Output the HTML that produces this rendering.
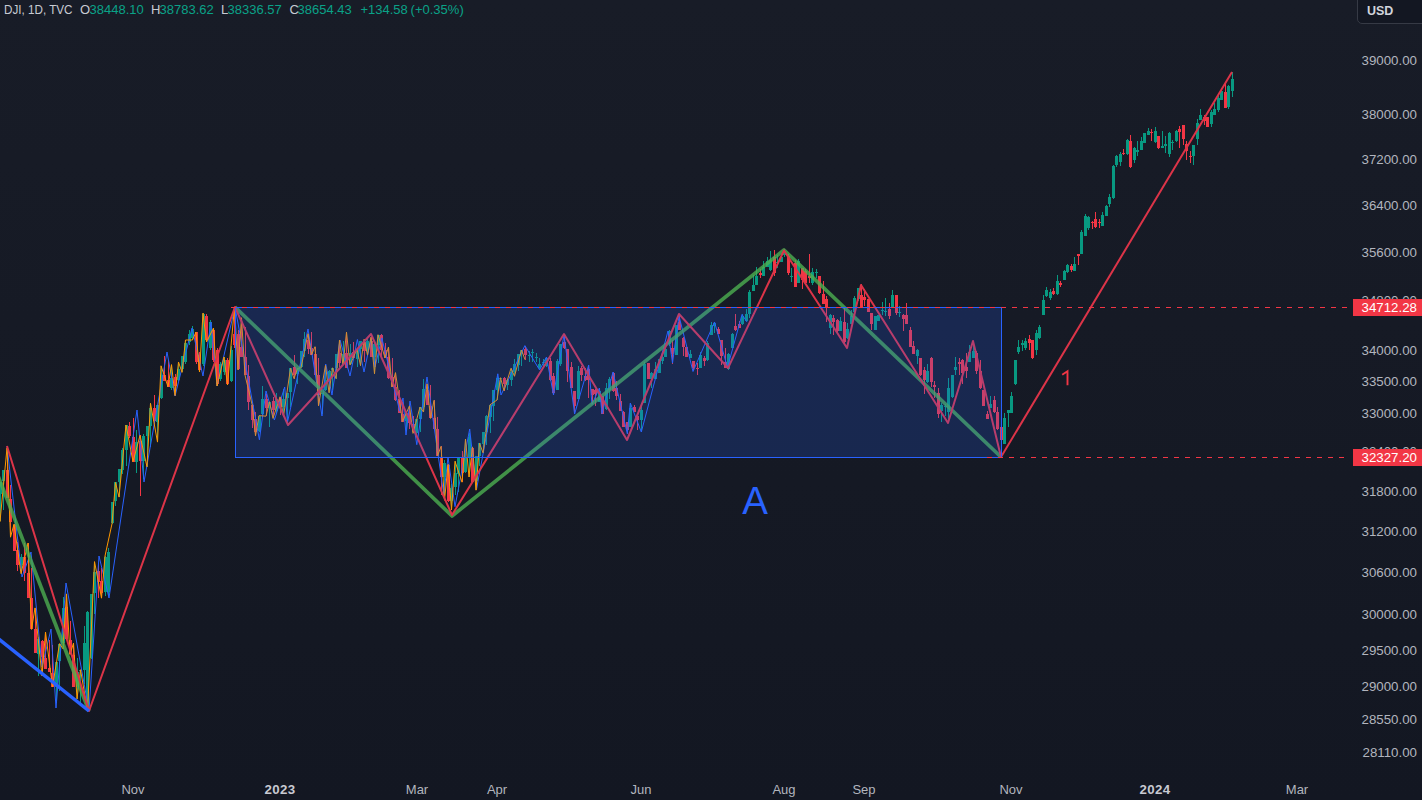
<!DOCTYPE html>
<html><head><meta charset="utf-8">
<style>
html,body{margin:0;padding:0;}
body{width:1422px;height:800px;overflow:hidden;position:relative;background:linear-gradient(180deg,#181c27 0%,#131722 100%);font-family:"Liberation Sans",sans-serif;}
.hdr{position:absolute;left:3px;top:2px;font-size:13px;line-height:15px;color:#c8cbd3;white-space:pre;}
.g{color:#0aa287;}
.pl{position:absolute;right:5px;width:80px;text-align:right;font-size:13.3px;line-height:16px;color:#b2b5be;}
.tl{position:absolute;top:782px;width:80px;text-align:center;font-size:13px;line-height:16px;color:#b2b5be;}
.tl.b{font-weight:bold;color:#c8cad2;font-size:13.3px;letter-spacing:0.4px;}
.lab{position:absolute;left:1353px;width:69px;height:17px;background:#f23645;color:#fff;font-size:13.3px;line-height:17px;text-align:right;box-sizing:border-box;padding-right:5px;}
.usd{position:absolute;left:1357px;top:-6px;width:80px;height:30px;box-sizing:border-box;border:1px solid #363a45;border-radius:5px;background:#131722;color:#d1d4dc;font-size:12.5px;font-weight:bold;}
.usd span{position:absolute;left:9px;top:9px;line-height:15px;}
</style></head><body>
<svg width="1350" height="770" viewBox="0 0 1350 770" style="position:absolute;left:0;top:0">
<g shape-rendering="crispEdges">
<path d="M-3.5 487V529" stroke="#089981" stroke-width="1"/>
<rect x="-5" y="495" width="3" height="13" fill="#089981"/>
<path d="M0.5 482V521" stroke="#089981" stroke-width="1"/>
<rect x="-1" y="482" width="3" height="12" fill="#089981"/>
<path d="M3.5 470V510" stroke="#089981" stroke-width="1"/>
<rect x="2" y="470" width="3" height="11" fill="#089981"/>
<path d="M7.5 448V498" stroke="#f23645" stroke-width="1"/>
<rect x="6" y="470" width="3" height="28" fill="#f23645"/>
<path d="M10.5 485V537" stroke="#f23645" stroke-width="1"/>
<rect x="9" y="499" width="3" height="23" fill="#f23645"/>
<path d="M14.5 524V551" stroke="#f23645" stroke-width="1"/>
<rect x="13" y="525" width="3" height="26" fill="#f23645"/>
<path d="M17.5 542V571" stroke="#f23645" stroke-width="1"/>
<rect x="16" y="550" width="3" height="15" fill="#f23645"/>
<path d="M21.5 554V574" stroke="#089981" stroke-width="1"/>
<rect x="20" y="557" width="3" height="8" fill="#089981"/>
<path d="M24.5 543V581" stroke="#f23645" stroke-width="1"/>
<rect x="23" y="557" width="3" height="16" fill="#f23645"/>
<path d="M28.5 543V598" stroke="#f23645" stroke-width="1"/>
<rect x="27" y="573" width="3" height="25" fill="#f23645"/>
<path d="M31.5 568V629" stroke="#f23645" stroke-width="1"/>
<rect x="30" y="598" width="3" height="31" fill="#f23645"/>
<path d="M35.5 608V653" stroke="#f23645" stroke-width="1"/>
<rect x="34" y="629" width="3" height="24" fill="#f23645"/>
<path d="M38.5 637V676" stroke="#089981" stroke-width="1"/>
<rect x="37" y="639" width="3" height="15" fill="#089981"/>
<path d="M42.5 640V676" stroke="#f23645" stroke-width="1"/>
<rect x="41" y="641" width="3" height="16" fill="#f23645"/>
<path d="M45.5 632V669" stroke="#f23645" stroke-width="1"/>
<rect x="44" y="658" width="3" height="11" fill="#f23645"/>
<path d="M49.5 640V672" stroke="#f23645" stroke-width="1"/>
<rect x="48" y="668" width="3" height="4" fill="#f23645"/>
<path d="M52.5 645V687" stroke="#f23645" stroke-width="1"/>
<rect x="51" y="673" width="3" height="14" fill="#f23645"/>
<path d="M56.5 662V703" stroke="#089981" stroke-width="1"/>
<rect x="55" y="662" width="3" height="25" fill="#089981"/>
<path d="M59.5 644V691" stroke="#089981" stroke-width="1"/>
<rect x="58" y="644" width="3" height="17" fill="#089981"/>
<path d="M63.5 597V649" stroke="#089981" stroke-width="1"/>
<rect x="62" y="608" width="3" height="35" fill="#089981"/>
<path d="M66.5 594V639" stroke="#f23645" stroke-width="1"/>
<rect x="65" y="607" width="3" height="32" fill="#f23645"/>
<path d="M70.5 621V654" stroke="#f23645" stroke-width="1"/>
<rect x="69" y="640" width="3" height="14" fill="#f23645"/>
<path d="M73.5 643V687" stroke="#f23645" stroke-width="1"/>
<rect x="72" y="655" width="3" height="32" fill="#f23645"/>
<path d="M77.5 658V699" stroke="#089981" stroke-width="1"/>
<rect x="76" y="672" width="3" height="15" fill="#089981"/>
<path d="M80.5 670V703" stroke="#089981" stroke-width="1"/>
<rect x="79" y="670" width="3" height="1" fill="#089981"/>
<path d="M84.5 626V684" stroke="#089981" stroke-width="1"/>
<rect x="83" y="643" width="3" height="27" fill="#089981"/>
<path d="M91.5 594V659" stroke="#089981" stroke-width="1"/>
<rect x="90" y="594" width="3" height="64" fill="#089981"/>
<path d="M94.5 562V614" stroke="#089981" stroke-width="1"/>
<rect x="93" y="572" width="3" height="21" fill="#089981"/>
<path d="M98.5 565V598" stroke="#f23645" stroke-width="1"/>
<rect x="97" y="571" width="3" height="11" fill="#f23645"/>
<path d="M101.5 568V598" stroke="#f23645" stroke-width="1"/>
<rect x="100" y="581" width="3" height="12" fill="#f23645"/>
<path d="M105.5 556V596" stroke="#089981" stroke-width="1"/>
<rect x="104" y="557" width="3" height="35" fill="#089981"/>
<path d="M112.5 502V524" stroke="#089981" stroke-width="1"/>
<rect x="111" y="502" width="3" height="21" fill="#089981"/>
<path d="M115.5 482V506" stroke="#089981" stroke-width="1"/>
<rect x="114" y="482" width="3" height="19" fill="#089981"/>
<path d="M119.5 469V497" stroke="#089981" stroke-width="1"/>
<rect x="118" y="469" width="3" height="13" fill="#089981"/>
<path d="M122.5 448V474" stroke="#089981" stroke-width="1"/>
<rect x="121" y="450" width="3" height="20" fill="#089981"/>
<path d="M126.5 425V466" stroke="#089981" stroke-width="1"/>
<rect x="125" y="425" width="3" height="25" fill="#089981"/>
<path d="M129.5 422V438" stroke="#f23645" stroke-width="1"/>
<rect x="128" y="426" width="3" height="10" fill="#f23645"/>
<path d="M133.5 418V462" stroke="#f23645" stroke-width="1"/>
<rect x="132" y="437" width="3" height="25" fill="#f23645"/>
<path d="M136.5 430V473" stroke="#089981" stroke-width="1"/>
<rect x="135" y="442" width="3" height="20" fill="#089981"/>
<path d="M140.5 435V496" stroke="#f23645" stroke-width="1"/>
<rect x="139" y="441" width="3" height="20" fill="#f23645"/>
<path d="M143.5 434V479" stroke="#089981" stroke-width="1"/>
<rect x="142" y="436" width="3" height="25" fill="#089981"/>
<path d="M147.5 426V467" stroke="#089981" stroke-width="1"/>
<rect x="146" y="426" width="3" height="10" fill="#089981"/>
<path d="M150.5 403V447" stroke="#089981" stroke-width="1"/>
<rect x="149" y="408" width="3" height="18" fill="#089981"/>
<path d="M154.5 395V424" stroke="#f23645" stroke-width="1"/>
<rect x="153" y="408" width="3" height="13" fill="#f23645"/>
<path d="M157.5 405V442" stroke="#089981" stroke-width="1"/>
<rect x="156" y="405" width="3" height="17" fill="#089981"/>
<path d="M161.5 366V399" stroke="#089981" stroke-width="1"/>
<rect x="160" y="375" width="3" height="23" fill="#089981"/>
<path d="M164.5 356V381" stroke="#f23645" stroke-width="1"/>
<rect x="163" y="375" width="3" height="6" fill="#f23645"/>
<path d="M168.5 360V387" stroke="#f23645" stroke-width="1"/>
<rect x="167" y="380" width="3" height="7" fill="#f23645"/>
<path d="M171.5 365V390" stroke="#089981" stroke-width="1"/>
<rect x="170" y="378" width="3" height="10" fill="#089981"/>
<path d="M175.5 374V396" stroke="#f23645" stroke-width="1"/>
<rect x="174" y="377" width="3" height="9" fill="#f23645"/>
<path d="M178.5 362V381" stroke="#089981" stroke-width="1"/>
<rect x="177" y="369" width="3" height="11" fill="#089981"/>
<path d="M182.5 356V372" stroke="#089981" stroke-width="1"/>
<rect x="181" y="356" width="3" height="13" fill="#089981"/>
<path d="M241.5 318V357" stroke="#f23645" stroke-width="1"/>
<rect x="240" y="347" width="3" height="10" fill="#f23645"/>
<path d="M245.5 327V375" stroke="#f23645" stroke-width="1"/>
<rect x="244" y="357" width="3" height="18" fill="#f23645"/>
<path d="M248.5 365V410" stroke="#f23645" stroke-width="1"/>
<rect x="247" y="376" width="3" height="26" fill="#f23645"/>
<path d="M252.5 404V428" stroke="#f23645" stroke-width="1"/>
<rect x="251" y="405" width="3" height="15" fill="#f23645"/>
<path d="M255.5 412V436" stroke="#f23645" stroke-width="1"/>
<rect x="254" y="419" width="3" height="13" fill="#f23645"/>
<path d="M259.5 416V432" stroke="#089981" stroke-width="1"/>
<rect x="258" y="416" width="3" height="15" fill="#089981"/>
<path d="M262.5 386V415" stroke="#089981" stroke-width="1"/>
<rect x="261" y="399" width="3" height="15" fill="#089981"/>
<path d="M266.5 394V416" stroke="#f23645" stroke-width="1"/>
<rect x="265" y="399" width="3" height="9" fill="#f23645"/>
<path d="M269.5 402V427" stroke="#089981" stroke-width="1"/>
<rect x="268" y="402" width="3" height="6" fill="#089981"/>
<path d="M273.5 397V418" stroke="#f23645" stroke-width="1"/>
<rect x="272" y="401" width="3" height="9" fill="#f23645"/>
<path d="M276.5 393V414" stroke="#089981" stroke-width="1"/>
<rect x="275" y="399" width="3" height="12" fill="#089981"/>
<path d="M280.5 397V415" stroke="#f23645" stroke-width="1"/>
<rect x="279" y="398" width="3" height="9" fill="#f23645"/>
<path d="M283.5 389V416" stroke="#089981" stroke-width="1"/>
<rect x="282" y="399" width="3" height="8" fill="#089981"/>
<path d="M287.5 393V425" stroke="#089981" stroke-width="1"/>
<rect x="286" y="393" width="3" height="5" fill="#089981"/>
<path d="M290.5 368V407" stroke="#089981" stroke-width="1"/>
<rect x="289" y="368" width="3" height="24" fill="#089981"/>
<path d="M294.5 355V379" stroke="#f23645" stroke-width="1"/>
<rect x="293" y="367" width="3" height="8" fill="#f23645"/>
<path d="M297.5 368V384" stroke="#089981" stroke-width="1"/>
<rect x="296" y="368" width="3" height="6" fill="#089981"/>
<path d="M301.5 351V368" stroke="#089981" stroke-width="1"/>
<rect x="300" y="351" width="3" height="16" fill="#089981"/>
<path d="M304.5 332V357" stroke="#089981" stroke-width="1"/>
<rect x="303" y="339" width="3" height="12" fill="#089981"/>
<path d="M308.5 334V354" stroke="#f23645" stroke-width="1"/>
<rect x="307" y="340" width="3" height="9" fill="#f23645"/>
<path d="M311.5 332V355" stroke="#f23645" stroke-width="1"/>
<rect x="310" y="348" width="3" height="7" fill="#f23645"/>
<path d="M315.5 347V375" stroke="#f23645" stroke-width="1"/>
<rect x="314" y="354" width="3" height="21" fill="#f23645"/>
<path d="M318.5 358V406" stroke="#f23645" stroke-width="1"/>
<rect x="317" y="375" width="3" height="20" fill="#f23645"/>
<path d="M322.5 393V414" stroke="#089981" stroke-width="1"/>
<rect x="321" y="393" width="3" height="1" fill="#089981"/>
<path d="M325.5 365V391" stroke="#089981" stroke-width="1"/>
<rect x="324" y="380" width="3" height="10" fill="#089981"/>
<path d="M329.5 370V393" stroke="#089981" stroke-width="1"/>
<rect x="328" y="371" width="3" height="9" fill="#089981"/>
<path d="M332.5 368V390" stroke="#089981" stroke-width="1"/>
<rect x="331" y="368" width="3" height="2" fill="#089981"/>
<path d="M336.5 354V379" stroke="#089981" stroke-width="1"/>
<rect x="335" y="354" width="3" height="14" fill="#089981"/>
<path d="M339.5 340V367" stroke="#f23645" stroke-width="1"/>
<rect x="338" y="353" width="3" height="10" fill="#f23645"/>
<path d="M343.5 341V365" stroke="#089981" stroke-width="1"/>
<rect x="342" y="354" width="3" height="10" fill="#089981"/>
<path d="M346.5 332V368" stroke="#f23645" stroke-width="1"/>
<rect x="345" y="353" width="3" height="15" fill="#f23645"/>
<path d="M350.5 344V365" stroke="#089981" stroke-width="1"/>
<rect x="349" y="353" width="3" height="11" fill="#089981"/>
<path d="M353.5 342V358" stroke="#f23645" stroke-width="1"/>
<rect x="352" y="352" width="3" height="6" fill="#f23645"/>
<path d="M357.5 349V367" stroke="#089981" stroke-width="1"/>
<rect x="356" y="349" width="3" height="10" fill="#089981"/>
<path d="M360.5 341V366" stroke="#089981" stroke-width="1"/>
<rect x="359" y="341" width="3" height="8" fill="#089981"/>
<path d="M364.5 339V362" stroke="#f23645" stroke-width="1"/>
<rect x="363" y="342" width="3" height="9" fill="#f23645"/>
<path d="M367.5 339V355" stroke="#089981" stroke-width="1"/>
<rect x="366" y="341" width="3" height="10" fill="#089981"/>
<path d="M371.5 337V357" stroke="#f23645" stroke-width="1"/>
<rect x="370" y="341" width="3" height="16" fill="#f23645"/>
<path d="M374.5 343V374" stroke="#089981" stroke-width="1"/>
<rect x="373" y="344" width="3" height="13" fill="#089981"/>
<path d="M378.5 335V363" stroke="#089981" stroke-width="1"/>
<rect x="377" y="335" width="3" height="10" fill="#089981"/>
<path d="M381.5 334V356" stroke="#f23645" stroke-width="1"/>
<rect x="380" y="335" width="3" height="15" fill="#f23645"/>
<path d="M385.5 343V358" stroke="#f23645" stroke-width="1"/>
<rect x="384" y="350" width="3" height="8" fill="#f23645"/>
<path d="M388.5 347V379" stroke="#f23645" stroke-width="1"/>
<rect x="387" y="357" width="3" height="21" fill="#f23645"/>
<path d="M392.5 358V387" stroke="#f23645" stroke-width="1"/>
<rect x="391" y="377" width="3" height="10" fill="#f23645"/>
<path d="M395.5 373V401" stroke="#f23645" stroke-width="1"/>
<rect x="394" y="387" width="3" height="13" fill="#f23645"/>
<path d="M399.5 390V413" stroke="#f23645" stroke-width="1"/>
<rect x="398" y="399" width="3" height="14" fill="#f23645"/>
<path d="M402.5 402V422" stroke="#f23645" stroke-width="1"/>
<rect x="401" y="414" width="3" height="8" fill="#f23645"/>
<path d="M406.5 412V431" stroke="#089981" stroke-width="1"/>
<rect x="405" y="413" width="3" height="8" fill="#089981"/>
<path d="M409.5 406V429" stroke="#f23645" stroke-width="1"/>
<rect x="408" y="413" width="3" height="10" fill="#f23645"/>
<path d="M413.5 416V433" stroke="#f23645" stroke-width="1"/>
<rect x="412" y="424" width="3" height="8" fill="#f23645"/>
<path d="M416.5 419V436" stroke="#089981" stroke-width="1"/>
<rect x="415" y="419" width="3" height="14" fill="#089981"/>
<path d="M420.5 407V432" stroke="#089981" stroke-width="1"/>
<rect x="419" y="407" width="3" height="12" fill="#089981"/>
<path d="M423.5 379V412" stroke="#089981" stroke-width="1"/>
<rect x="422" y="389" width="3" height="18" fill="#089981"/>
<path d="M427.5 384V405" stroke="#f23645" stroke-width="1"/>
<rect x="426" y="390" width="3" height="15" fill="#f23645"/>
<path d="M430.5 385V418" stroke="#f23645" stroke-width="1"/>
<rect x="429" y="406" width="3" height="12" fill="#f23645"/>
<path d="M434.5 400V429" stroke="#f23645" stroke-width="1"/>
<rect x="433" y="418" width="3" height="11" fill="#f23645"/>
<path d="M437.5 417V456" stroke="#f23645" stroke-width="1"/>
<rect x="436" y="429" width="3" height="27" fill="#f23645"/>
<path d="M441.5 446V495" stroke="#f23645" stroke-width="1"/>
<rect x="440" y="457" width="3" height="20" fill="#f23645"/>
<path d="M444.5 460V500" stroke="#089981" stroke-width="1"/>
<rect x="443" y="463" width="3" height="14" fill="#089981"/>
<path d="M448.5 464V502" stroke="#f23645" stroke-width="1"/>
<rect x="447" y="465" width="3" height="36" fill="#f23645"/>
<path d="M451.5 484V510" stroke="#089981" stroke-width="1"/>
<rect x="450" y="488" width="3" height="13" fill="#089981"/>
<path d="M455.5 461V495" stroke="#089981" stroke-width="1"/>
<rect x="454" y="473" width="3" height="14" fill="#089981"/>
<path d="M458.5 458V492" stroke="#089981" stroke-width="1"/>
<rect x="457" y="458" width="3" height="16" fill="#089981"/>
<path d="M462.5 451V482" stroke="#f23645" stroke-width="1"/>
<rect x="461" y="458" width="3" height="15" fill="#f23645"/>
<path d="M465.5 439V473" stroke="#089981" stroke-width="1"/>
<rect x="464" y="457" width="3" height="15" fill="#089981"/>
<path d="M469.5 433V477" stroke="#089981" stroke-width="1"/>
<rect x="468" y="437" width="3" height="20" fill="#089981"/>
<path d="M472.5 447V482" stroke="#f23645" stroke-width="1"/>
<rect x="471" y="448" width="3" height="34" fill="#f23645"/>
<path d="M476.5 456V490" stroke="#089981" stroke-width="1"/>
<rect x="475" y="456" width="3" height="25" fill="#089981"/>
<path d="M479.5 443V466" stroke="#089981" stroke-width="1"/>
<rect x="478" y="443" width="3" height="13" fill="#089981"/>
<path d="M483.5 432V453" stroke="#089981" stroke-width="1"/>
<rect x="482" y="432" width="3" height="12" fill="#089981"/>
<path d="M486.5 415V445" stroke="#089981" stroke-width="1"/>
<rect x="485" y="416" width="3" height="16" fill="#089981"/>
<path d="M490.5 405V433" stroke="#089981" stroke-width="1"/>
<rect x="489" y="405" width="3" height="12" fill="#089981"/>
<path d="M493.5 390V421" stroke="#089981" stroke-width="1"/>
<rect x="492" y="390" width="3" height="16" fill="#089981"/>
<path d="M497.5 374V400" stroke="#089981" stroke-width="1"/>
<rect x="496" y="378" width="3" height="12" fill="#089981"/>
<path d="M500.5 378V393" stroke="#089981" stroke-width="1"/>
<rect x="499" y="378" width="3" height="1" fill="#089981"/>
<path d="M504.5 377V391" stroke="#f23645" stroke-width="1"/>
<rect x="503" y="378" width="3" height="6" fill="#f23645"/>
<path d="M507.5 379V390" stroke="#089981" stroke-width="1"/>
<rect x="506" y="380" width="3" height="5" fill="#089981"/>
<path d="M511.5 368V386" stroke="#089981" stroke-width="1"/>
<rect x="510" y="372" width="3" height="8" fill="#089981"/>
<path d="M514.5 359V376" stroke="#089981" stroke-width="1"/>
<rect x="513" y="364" width="3" height="8" fill="#089981"/>
<path d="M518.5 354V371" stroke="#089981" stroke-width="1"/>
<rect x="517" y="354" width="3" height="11" fill="#089981"/>
<path d="M521.5 350V366" stroke="#089981" stroke-width="1"/>
<rect x="520" y="350" width="3" height="4" fill="#089981"/>
<path d="M525.5 346V360" stroke="#f23645" stroke-width="1"/>
<rect x="524" y="349" width="3" height="6" fill="#f23645"/>
<path d="M87.5 611V711" stroke="#089981" stroke-width="1"/>
<rect x="86" y="612" width="3" height="95" fill="#089981"/>
<path d="M108.5 548V596" stroke="#089981" stroke-width="1"/>
<rect x="107" y="552" width="3" height="40" fill="#089981"/>
<path d="M185.5 340V364" stroke="#089981" stroke-width="1"/>
<rect x="184" y="343" width="3" height="19" fill="#089981"/>
<path d="M189.5 330V345" stroke="#089981" stroke-width="1"/>
<rect x="188" y="334" width="3" height="8" fill="#089981"/>
<path d="M192.5 326V340" stroke="#089981" stroke-width="1"/>
<rect x="191" y="329" width="3" height="9" fill="#089981"/>
<path d="M196.5 332V364" stroke="#f23645" stroke-width="1"/>
<rect x="195" y="332" width="3" height="30" fill="#f23645"/>
<path d="M199.5 352V372" stroke="#f23645" stroke-width="1"/>
<rect x="198" y="355" width="3" height="15" fill="#f23645"/>
<path d="M203.5 313V366" stroke="#089981" stroke-width="1"/>
<rect x="202" y="314" width="3" height="50" fill="#089981"/>
<path d="M206.5 314V342" stroke="#f23645" stroke-width="1"/>
<rect x="205" y="316" width="3" height="24" fill="#f23645"/>
<path d="M210.5 320V350" stroke="#089981" stroke-width="1"/>
<rect x="209" y="322" width="3" height="26" fill="#089981"/>
<path d="M213.5 328V362" stroke="#f23645" stroke-width="1"/>
<rect x="212" y="330" width="3" height="30" fill="#f23645"/>
<path d="M217.5 348V386" stroke="#f23645" stroke-width="1"/>
<rect x="216" y="350" width="3" height="34" fill="#f23645"/>
<path d="M220.5 362V381" stroke="#089981" stroke-width="1"/>
<rect x="219" y="364" width="3" height="15" fill="#089981"/>
<path d="M224.5 357V375" stroke="#089981" stroke-width="1"/>
<rect x="223" y="360" width="3" height="12" fill="#089981"/>
<path d="M227.5 358V385" stroke="#f23645" stroke-width="1"/>
<rect x="226" y="360" width="3" height="24" fill="#f23645"/>
<path d="M231.5 346V382" stroke="#089981" stroke-width="1"/>
<rect x="230" y="350" width="3" height="31" fill="#089981"/>
<path d="M234.5 307V348" stroke="#f23645" stroke-width="1"/>
<rect x="233" y="334" width="3" height="11" fill="#f23645"/>
<path d="M238.5 330V370" stroke="#f23645" stroke-width="1"/>
<rect x="237" y="334" width="3" height="35" fill="#f23645"/>
<path d="M529.5 351V362" stroke="#089981" stroke-width="1"/>
<rect x="528" y="355" width="3" height="1" fill="#089981"/>
<path d="M532.5 349V362" stroke="#089981" stroke-width="1"/>
<rect x="531" y="352" width="3" height="1" fill="#089981"/>
<path d="M536.5 353V362" stroke="#089981" stroke-width="1"/>
<rect x="535" y="357" width="3" height="1" fill="#089981"/>
<path d="M539.5 358V370" stroke="#089981" stroke-width="1"/>
<rect x="538" y="364" width="3" height="4" fill="#089981"/>
<path d="M543.5 359V366" stroke="#089981" stroke-width="1"/>
<rect x="542" y="362" width="3" height="1" fill="#089981"/>
<path d="M546.5 357V367" stroke="#089981" stroke-width="1"/>
<rect x="545" y="358" width="3" height="8" fill="#089981"/>
<path d="M550.5 358V381" stroke="#f23645" stroke-width="1"/>
<rect x="549" y="361" width="3" height="19" fill="#f23645"/>
<path d="M553.5 373V395" stroke="#f23645" stroke-width="1"/>
<rect x="552" y="376" width="3" height="17" fill="#f23645"/>
<path d="M557.5 359V390" stroke="#089981" stroke-width="1"/>
<rect x="556" y="361" width="3" height="29" fill="#089981"/>
<path d="M560.5 344V366" stroke="#089981" stroke-width="1"/>
<rect x="559" y="344" width="3" height="20" fill="#089981"/>
<path d="M564.5 335V349" stroke="#f23645" stroke-width="1"/>
<rect x="563" y="342" width="3" height="6" fill="#f23645"/>
<path d="M567.5 349V382" stroke="#f23645" stroke-width="1"/>
<rect x="566" y="349" width="3" height="22" fill="#f23645"/>
<path d="M571.5 362V388" stroke="#f23645" stroke-width="1"/>
<rect x="570" y="367" width="3" height="21" fill="#f23645"/>
<path d="M574.5 391V414" stroke="#f23645" stroke-width="1"/>
<rect x="573" y="391" width="3" height="15" fill="#f23645"/>
<path d="M578.5 366V399" stroke="#089981" stroke-width="1"/>
<rect x="577" y="371" width="3" height="28" fill="#089981"/>
<path d="M581.5 366V381" stroke="#f23645" stroke-width="1"/>
<rect x="580" y="368" width="3" height="7" fill="#f23645"/>
<path d="M585.5 368V381" stroke="#f23645" stroke-width="1"/>
<rect x="584" y="376" width="3" height="4" fill="#f23645"/>
<path d="M588.5 366V398" stroke="#f23645" stroke-width="1"/>
<rect x="587" y="369" width="3" height="11" fill="#f23645"/>
<path d="M592.5 389V404" stroke="#f23645" stroke-width="1"/>
<rect x="591" y="389" width="3" height="6" fill="#f23645"/>
<path d="M595.5 389V406" stroke="#f23645" stroke-width="1"/>
<rect x="594" y="390" width="3" height="4" fill="#f23645"/>
<path d="M599.5 388V402" stroke="#089981" stroke-width="1"/>
<rect x="598" y="391" width="3" height="11" fill="#089981"/>
<path d="M602.5 396V414" stroke="#f23645" stroke-width="1"/>
<rect x="601" y="396" width="3" height="18" fill="#f23645"/>
<path d="M606.5 383V410" stroke="#089981" stroke-width="1"/>
<rect x="605" y="388" width="3" height="21" fill="#089981"/>
<path d="M609.5 377V399" stroke="#089981" stroke-width="1"/>
<rect x="608" y="379" width="3" height="11" fill="#089981"/>
<path d="M613.5 372V392" stroke="#f23645" stroke-width="1"/>
<rect x="612" y="373" width="3" height="18" fill="#f23645"/>
<path d="M616.5 381V400" stroke="#f23645" stroke-width="1"/>
<rect x="615" y="388" width="3" height="8" fill="#f23645"/>
<path d="M620.5 394V411" stroke="#f23645" stroke-width="1"/>
<rect x="619" y="401" width="3" height="10" fill="#f23645"/>
<path d="M623.5 411V427" stroke="#f23645" stroke-width="1"/>
<rect x="622" y="412" width="3" height="15" fill="#f23645"/>
<path d="M627.5 422V434" stroke="#f23645" stroke-width="1"/>
<rect x="626" y="422" width="3" height="8" fill="#f23645"/>
<path d="M630.5 403V427" stroke="#089981" stroke-width="1"/>
<rect x="629" y="408" width="3" height="19" fill="#089981"/>
<path d="M634.5 405V412" stroke="#f23645" stroke-width="1"/>
<rect x="633" y="407" width="3" height="5" fill="#f23645"/>
<path d="M637.5 413V430" stroke="#f23645" stroke-width="1"/>
<rect x="636" y="416" width="3" height="4" fill="#f23645"/>
<path d="M641.5 403V432" stroke="#089981" stroke-width="1"/>
<rect x="640" y="410" width="3" height="10" fill="#089981"/>
<path d="M644.5 362V403" stroke="#089981" stroke-width="1"/>
<rect x="643" y="364" width="3" height="39" fill="#089981"/>
<path d="M648.5 363V379" stroke="#f23645" stroke-width="1"/>
<rect x="647" y="363" width="3" height="16" fill="#f23645"/>
<path d="M651.5 372V388" stroke="#089981" stroke-width="1"/>
<rect x="650" y="373" width="3" height="6" fill="#089981"/>
<path d="M655.5 362V379" stroke="#089981" stroke-width="1"/>
<rect x="654" y="369" width="3" height="10" fill="#089981"/>
<path d="M659.5 359V373" stroke="#089981" stroke-width="1"/>
<rect x="658" y="359" width="3" height="14" fill="#089981"/>
<path d="M662.5 355V364" stroke="#089981" stroke-width="1"/>
<rect x="661" y="357" width="3" height="4" fill="#089981"/>
<path d="M665.5 343V357" stroke="#089981" stroke-width="1"/>
<rect x="664" y="349" width="3" height="8" fill="#089981"/>
<path d="M669.5 330V346" stroke="#089981" stroke-width="1"/>
<rect x="668" y="331" width="3" height="13" fill="#089981"/>
<path d="M672.5 340V364" stroke="#f23645" stroke-width="1"/>
<rect x="671" y="348" width="3" height="6" fill="#f23645"/>
<path d="M676.5 325V355" stroke="#089981" stroke-width="1"/>
<rect x="675" y="325" width="3" height="30" fill="#089981"/>
<path d="M679.5 315V330" stroke="#f23645" stroke-width="1"/>
<rect x="678" y="322" width="3" height="8" fill="#f23645"/>
<path d="M683.5 337V356" stroke="#f23645" stroke-width="1"/>
<rect x="682" y="338" width="3" height="9" fill="#f23645"/>
<path d="M686.5 347V357" stroke="#f23645" stroke-width="1"/>
<rect x="685" y="347" width="3" height="10" fill="#f23645"/>
<path d="M690.5 350V358" stroke="#089981" stroke-width="1"/>
<rect x="689" y="354" width="3" height="4" fill="#089981"/>
<path d="M693.5 361V370" stroke="#f23645" stroke-width="1"/>
<rect x="692" y="361" width="3" height="7" fill="#f23645"/>
<path d="M697.5 363V375" stroke="#f23645" stroke-width="1"/>
<rect x="696" y="368" width="3" height="1" fill="#f23645"/>
<path d="M700.5 352V368" stroke="#089981" stroke-width="1"/>
<rect x="699" y="355" width="3" height="13" fill="#089981"/>
<path d="M704.5 356V366" stroke="#f23645" stroke-width="1"/>
<rect x="703" y="358" width="3" height="3" fill="#f23645"/>
<path d="M707.5 341V361" stroke="#089981" stroke-width="1"/>
<rect x="706" y="343" width="3" height="17" fill="#089981"/>
<path d="M711.5 322V335" stroke="#089981" stroke-width="1"/>
<rect x="710" y="325" width="3" height="10" fill="#089981"/>
<path d="M714.5 322V333" stroke="#089981" stroke-width="1"/>
<rect x="713" y="323" width="3" height="3" fill="#089981"/>
<path d="M718.5 327V334" stroke="#f23645" stroke-width="1"/>
<rect x="717" y="329" width="3" height="5" fill="#f23645"/>
<path d="M721.5 340V365" stroke="#f23645" stroke-width="1"/>
<rect x="720" y="340" width="3" height="16" fill="#f23645"/>
<path d="M725.5 348V368" stroke="#f23645" stroke-width="1"/>
<rect x="724" y="362" width="3" height="6" fill="#f23645"/>
<path d="M728.5 353V370" stroke="#089981" stroke-width="1"/>
<rect x="727" y="354" width="3" height="15" fill="#089981"/>
<path d="M732.5 333V348" stroke="#089981" stroke-width="1"/>
<rect x="731" y="334" width="3" height="14" fill="#089981"/>
<path d="M735.5 314V331" stroke="#f23645" stroke-width="1"/>
<rect x="734" y="326" width="3" height="4" fill="#f23645"/>
<path d="M739.5 321V328" stroke="#f23645" stroke-width="1"/>
<rect x="738" y="324" width="3" height="4" fill="#f23645"/>
<path d="M742.5 314V325" stroke="#089981" stroke-width="1"/>
<rect x="741" y="316" width="3" height="8" fill="#089981"/>
<path d="M746.5 309V321" stroke="#089981" stroke-width="1"/>
<rect x="745" y="314" width="3" height="7" fill="#089981"/>
<path d="M749.5 290V318" stroke="#089981" stroke-width="1"/>
<rect x="748" y="292" width="3" height="22" fill="#089981"/>
<path d="M753.5 275V291" stroke="#089981" stroke-width="1"/>
<rect x="752" y="285" width="3" height="6" fill="#089981"/>
<path d="M756.5 267V285" stroke="#089981" stroke-width="1"/>
<rect x="755" y="276" width="3" height="9" fill="#089981"/>
<path d="M760.5 269V278" stroke="#f23645" stroke-width="1"/>
<rect x="759" y="273" width="3" height="2" fill="#f23645"/>
<path d="M763.5 261V276" stroke="#089981" stroke-width="1"/>
<rect x="762" y="267" width="3" height="9" fill="#089981"/>
<path d="M767.5 257V267" stroke="#089981" stroke-width="1"/>
<rect x="766" y="261" width="3" height="6" fill="#089981"/>
<path d="M770.5 251V271" stroke="#089981" stroke-width="1"/>
<rect x="769" y="260" width="3" height="10" fill="#089981"/>
<path d="M774.5 250V276" stroke="#f23645" stroke-width="1"/>
<rect x="773" y="257" width="3" height="16" fill="#f23645"/>
<path d="M777.5 255V268" stroke="#089981" stroke-width="1"/>
<rect x="776" y="262" width="3" height="1" fill="#089981"/>
<path d="M781.5 255V262" stroke="#089981" stroke-width="1"/>
<rect x="780" y="257" width="3" height="5" fill="#089981"/>
<path d="M784.5 249V257" stroke="#089981" stroke-width="1"/>
<rect x="783" y="251" width="3" height="4" fill="#089981"/>
<path d="M788.5 254V275" stroke="#f23645" stroke-width="1"/>
<rect x="787" y="256" width="3" height="17" fill="#f23645"/>
<path d="M791.5 268V282" stroke="#089981" stroke-width="1"/>
<rect x="790" y="276" width="3" height="1" fill="#089981"/>
<path d="M795.5 260V287" stroke="#f23645" stroke-width="1"/>
<rect x="794" y="263" width="3" height="24" fill="#f23645"/>
<path d="M798.5 259V283" stroke="#089981" stroke-width="1"/>
<rect x="797" y="261" width="3" height="22" fill="#089981"/>
<path d="M802.5 268V289" stroke="#f23645" stroke-width="1"/>
<rect x="801" y="268" width="3" height="12" fill="#f23645"/>
<path d="M805.5 269V285" stroke="#f23645" stroke-width="1"/>
<rect x="804" y="271" width="3" height="12" fill="#f23645"/>
<path d="M809.5 254V283" stroke="#f23645" stroke-width="1"/>
<rect x="808" y="276" width="3" height="2" fill="#f23645"/>
<path d="M812.5 268V285" stroke="#089981" stroke-width="1"/>
<rect x="811" y="272" width="3" height="11" fill="#089981"/>
<path d="M816.5 269V278" stroke="#089981" stroke-width="1"/>
<rect x="815" y="272" width="3" height="1" fill="#089981"/>
<path d="M819.5 276V294" stroke="#f23645" stroke-width="1"/>
<rect x="818" y="276" width="3" height="17" fill="#f23645"/>
<path d="M823.5 281V304" stroke="#f23645" stroke-width="1"/>
<rect x="822" y="294" width="3" height="10" fill="#f23645"/>
<path d="M826.5 296V322" stroke="#f23645" stroke-width="1"/>
<rect x="825" y="299" width="3" height="8" fill="#f23645"/>
<path d="M830.5 314V334" stroke="#089981" stroke-width="1"/>
<rect x="829" y="315" width="3" height="13" fill="#089981"/>
<path d="M833.5 315V335" stroke="#f23645" stroke-width="1"/>
<rect x="832" y="318" width="3" height="4" fill="#f23645"/>
<path d="M837.5 319V334" stroke="#f23645" stroke-width="1"/>
<rect x="836" y="320" width="3" height="11" fill="#f23645"/>
<path d="M840.5 317V331" stroke="#089981" stroke-width="1"/>
<rect x="839" y="321" width="3" height="10" fill="#089981"/>
<path d="M844.5 307V344" stroke="#f23645" stroke-width="1"/>
<rect x="843" y="322" width="3" height="20" fill="#f23645"/>
<path d="M847.5 323V339" stroke="#089981" stroke-width="1"/>
<rect x="846" y="329" width="3" height="9" fill="#089981"/>
<path d="M851.5 310V324" stroke="#089981" stroke-width="1"/>
<rect x="850" y="316" width="3" height="8" fill="#089981"/>
<path d="M854.5 296V312" stroke="#089981" stroke-width="1"/>
<rect x="853" y="298" width="3" height="14" fill="#089981"/>
<path d="M858.5 288V301" stroke="#089981" stroke-width="1"/>
<rect x="857" y="288" width="3" height="11" fill="#089981"/>
<path d="M861.5 284V307" stroke="#f23645" stroke-width="1"/>
<rect x="860" y="295" width="3" height="12" fill="#f23645"/>
<path d="M864.5 289V306" stroke="#f23645" stroke-width="1"/>
<rect x="863" y="297" width="3" height="3" fill="#f23645"/>
<path d="M868.5 299V312" stroke="#f23645" stroke-width="1"/>
<rect x="867" y="299" width="3" height="13" fill="#f23645"/>
<path d="M871.5 313V330" stroke="#f23645" stroke-width="1"/>
<rect x="870" y="313" width="3" height="11" fill="#f23645"/>
<path d="M875.5 316V330" stroke="#089981" stroke-width="1"/>
<rect x="874" y="316" width="3" height="14" fill="#089981"/>
<path d="M878.5 315V321" stroke="#089981" stroke-width="1"/>
<rect x="877" y="315" width="3" height="6" fill="#089981"/>
<path d="M882.5 302V315" stroke="#089981" stroke-width="1"/>
<rect x="881" y="310" width="3" height="1" fill="#089981"/>
<path d="M885.5 298V316" stroke="#089981" stroke-width="1"/>
<rect x="884" y="311" width="3" height="1" fill="#089981"/>
<path d="M889.5 303V319" stroke="#f23645" stroke-width="1"/>
<rect x="888" y="309" width="3" height="7" fill="#f23645"/>
<path d="M892.5 290V308" stroke="#089981" stroke-width="1"/>
<rect x="891" y="295" width="3" height="13" fill="#089981"/>
<path d="M896.5 295V315" stroke="#f23645" stroke-width="1"/>
<rect x="895" y="295" width="3" height="18" fill="#f23645"/>
<path d="M899.5 306V317" stroke="#089981" stroke-width="1"/>
<rect x="898" y="312" width="3" height="1" fill="#089981"/>
<path d="M903.5 314V331" stroke="#f23645" stroke-width="1"/>
<rect x="902" y="315" width="3" height="4" fill="#f23645"/>
<path d="M906.5 303V324" stroke="#f23645" stroke-width="1"/>
<rect x="905" y="315" width="3" height="9" fill="#f23645"/>
<path d="M910.5 327V347" stroke="#f23645" stroke-width="1"/>
<rect x="909" y="330" width="3" height="17" fill="#f23645"/>
<path d="M913.5 341V354" stroke="#f23645" stroke-width="1"/>
<rect x="912" y="346" width="3" height="8" fill="#f23645"/>
<path d="M917.5 349V364" stroke="#089981" stroke-width="1"/>
<rect x="916" y="350" width="3" height="6" fill="#089981"/>
<path d="M920.5 358V376" stroke="#f23645" stroke-width="1"/>
<rect x="919" y="358" width="3" height="17" fill="#f23645"/>
<path d="M924.5 367V394" stroke="#f23645" stroke-width="1"/>
<rect x="923" y="370" width="3" height="10" fill="#f23645"/>
<path d="M927.5 364V383" stroke="#089981" stroke-width="1"/>
<rect x="926" y="371" width="3" height="11" fill="#089981"/>
<path d="M931.5 357V387" stroke="#f23645" stroke-width="1"/>
<rect x="930" y="358" width="3" height="24" fill="#f23645"/>
<path d="M934.5 381V398" stroke="#f23645" stroke-width="1"/>
<rect x="933" y="385" width="3" height="2" fill="#f23645"/>
<path d="M938.5 388V418" stroke="#f23645" stroke-width="1"/>
<rect x="937" y="393" width="3" height="21" fill="#f23645"/>
<path d="M941.5 403V422" stroke="#089981" stroke-width="1"/>
<rect x="940" y="405" width="3" height="6" fill="#089981"/>
<path d="M945.5 404V416" stroke="#089981" stroke-width="1"/>
<rect x="944" y="406" width="3" height="1" fill="#089981"/>
<path d="M948.5 378V420" stroke="#089981" stroke-width="1"/>
<rect x="947" y="388" width="3" height="24" fill="#089981"/>
<path d="M952.5 375V398" stroke="#089981" stroke-width="1"/>
<rect x="951" y="375" width="3" height="22" fill="#089981"/>
<path d="M955.5 357V375" stroke="#089981" stroke-width="1"/>
<rect x="954" y="367" width="3" height="3" fill="#089981"/>
<path d="M959.5 358V375" stroke="#f23645" stroke-width="1"/>
<rect x="958" y="362" width="3" height="2" fill="#f23645"/>
<path d="M962.5 359V384" stroke="#f23645" stroke-width="1"/>
<rect x="961" y="360" width="3" height="13" fill="#f23645"/>
<path d="M966.5 353V378" stroke="#f23645" stroke-width="1"/>
<rect x="965" y="367" width="3" height="4" fill="#f23645"/>
<path d="M969.5 345V362" stroke="#089981" stroke-width="1"/>
<rect x="968" y="352" width="3" height="10" fill="#089981"/>
<path d="M973.5 341V358" stroke="#089981" stroke-width="1"/>
<rect x="972" y="351" width="3" height="7" fill="#089981"/>
<path d="M976.5 351V374" stroke="#f23645" stroke-width="1"/>
<rect x="975" y="353" width="3" height="18" fill="#f23645"/>
<path d="M980.5 360V389" stroke="#f23645" stroke-width="1"/>
<rect x="979" y="371" width="3" height="17" fill="#f23645"/>
<path d="M983.5 390V406" stroke="#f23645" stroke-width="1"/>
<rect x="982" y="390" width="3" height="16" fill="#f23645"/>
<path d="M987.5 411V419" stroke="#f23645" stroke-width="1"/>
<rect x="986" y="414" width="3" height="5" fill="#f23645"/>
<path d="M990.5 396V408" stroke="#089981" stroke-width="1"/>
<rect x="989" y="404" width="3" height="4" fill="#089981"/>
<path d="M994.5 396V413" stroke="#f23645" stroke-width="1"/>
<rect x="993" y="400" width="3" height="12" fill="#f23645"/>
<path d="M997.5 407V430" stroke="#f23645" stroke-width="1"/>
<rect x="996" y="412" width="3" height="17" fill="#f23645"/>
<path d="M1001.5 427V457" stroke="#f23645" stroke-width="1"/>
<rect x="1000" y="427" width="3" height="13" fill="#f23645"/>
<path d="M1004.5 413V444" stroke="#089981" stroke-width="1"/>
<rect x="1003" y="418" width="3" height="26" fill="#089981"/>
<path d="M1008.5 410V427" stroke="#089981" stroke-width="1"/>
<rect x="1007" y="410" width="3" height="3" fill="#089981"/>
<path d="M1011.5 392V413" stroke="#089981" stroke-width="1"/>
<rect x="1010" y="396" width="3" height="17" fill="#089981"/>
<path d="M1015.5 360V385" stroke="#089981" stroke-width="1"/>
<rect x="1014" y="360" width="3" height="24" fill="#089981"/>
<path d="M1018.5 340V354" stroke="#089981" stroke-width="1"/>
<rect x="1017" y="347" width="3" height="5" fill="#089981"/>
<path d="M1022.5 340V351" stroke="#089981" stroke-width="1"/>
<rect x="1021" y="343" width="3" height="2" fill="#089981"/>
<path d="M1025.5 338V350" stroke="#089981" stroke-width="1"/>
<rect x="1024" y="341" width="3" height="7" fill="#089981"/>
<path d="M1029.5 335V350" stroke="#f23645" stroke-width="1"/>
<rect x="1028" y="339" width="3" height="4" fill="#f23645"/>
<path d="M1032.5 340V359" stroke="#f23645" stroke-width="1"/>
<rect x="1031" y="340" width="3" height="18" fill="#f23645"/>
<path d="M1036.5 330V355" stroke="#089981" stroke-width="1"/>
<rect x="1035" y="333" width="3" height="17" fill="#089981"/>
<path d="M1039.5 325V339" stroke="#089981" stroke-width="1"/>
<rect x="1038" y="327" width="3" height="11" fill="#089981"/>
<path d="M1043.5 295V315" stroke="#089981" stroke-width="1"/>
<rect x="1042" y="300" width="3" height="15" fill="#089981"/>
<path d="M1046.5 287V297" stroke="#089981" stroke-width="1"/>
<rect x="1045" y="290" width="3" height="6" fill="#089981"/>
<path d="M1050.5 289V300" stroke="#089981" stroke-width="1"/>
<rect x="1049" y="292" width="3" height="6" fill="#089981"/>
<path d="M1053.5 288V295" stroke="#f23645" stroke-width="1"/>
<rect x="1052" y="291" width="3" height="3" fill="#f23645"/>
<path d="M1057.5 275V295" stroke="#089981" stroke-width="1"/>
<rect x="1056" y="281" width="3" height="13" fill="#089981"/>
<path d="M1060.5 281V287" stroke="#f23645" stroke-width="1"/>
<rect x="1059" y="283" width="3" height="2" fill="#f23645"/>
<path d="M1064.5 270V280" stroke="#089981" stroke-width="1"/>
<rect x="1063" y="271" width="3" height="9" fill="#089981"/>
<path d="M1067.5 264V273" stroke="#089981" stroke-width="1"/>
<rect x="1066" y="265" width="3" height="7" fill="#089981"/>
<path d="M1071.5 264V272" stroke="#f23645" stroke-width="1"/>
<rect x="1070" y="266" width="3" height="4" fill="#f23645"/>
<path d="M1074.5 257V271" stroke="#089981" stroke-width="1"/>
<rect x="1073" y="264" width="3" height="7" fill="#089981"/>
<path d="M1078.5 254V265" stroke="#f23645" stroke-width="1"/>
<rect x="1077" y="254" width="3" height="2" fill="#f23645"/>
<path d="M1081.5 230V254" stroke="#089981" stroke-width="1"/>
<rect x="1080" y="232" width="3" height="22" fill="#089981"/>
<path d="M1085.5 214V236" stroke="#089981" stroke-width="1"/>
<rect x="1084" y="216" width="3" height="20" fill="#089981"/>
<path d="M1088.5 216V230" stroke="#089981" stroke-width="1"/>
<rect x="1087" y="217" width="3" height="11" fill="#089981"/>
<path d="M1092.5 221V229" stroke="#f23645" stroke-width="1"/>
<rect x="1091" y="222" width="3" height="1" fill="#f23645"/>
<path d="M1095.5 212V228" stroke="#f23645" stroke-width="1"/>
<rect x="1094" y="219" width="3" height="8" fill="#f23645"/>
<path d="M1099.5 219V228" stroke="#f23645" stroke-width="1"/>
<rect x="1098" y="222" width="3" height="1" fill="#f23645"/>
<path d="M1102.5 212V226" stroke="#089981" stroke-width="1"/>
<rect x="1101" y="215" width="3" height="11" fill="#089981"/>
<path d="M1106.5 205V216" stroke="#089981" stroke-width="1"/>
<rect x="1105" y="206" width="3" height="10" fill="#089981"/>
<path d="M1109.5 194V207" stroke="#089981" stroke-width="1"/>
<rect x="1108" y="197" width="3" height="7" fill="#089981"/>
<path d="M1113.5 165V199" stroke="#089981" stroke-width="1"/>
<rect x="1112" y="166" width="3" height="32" fill="#089981"/>
<path d="M1116.5 155V167" stroke="#089981" stroke-width="1"/>
<rect x="1115" y="156" width="3" height="9" fill="#089981"/>
<path d="M1120.5 152V166" stroke="#089981" stroke-width="1"/>
<rect x="1119" y="154" width="3" height="8" fill="#089981"/>
<path d="M1123.5 149V155" stroke="#f23645" stroke-width="1"/>
<rect x="1122" y="153" width="3" height="1" fill="#f23645"/>
<path d="M1127.5 139V155" stroke="#089981" stroke-width="1"/>
<rect x="1126" y="140" width="3" height="14" fill="#089981"/>
<path d="M1130.5 135V168" stroke="#f23645" stroke-width="1"/>
<rect x="1129" y="141" width="3" height="26" fill="#f23645"/>
<path d="M1134.5 147V163" stroke="#089981" stroke-width="1"/>
<rect x="1133" y="148" width="3" height="12" fill="#089981"/>
<path d="M1137.5 141V156" stroke="#089981" stroke-width="1"/>
<rect x="1136" y="150" width="3" height="2" fill="#089981"/>
<path d="M1141.5 137V150" stroke="#089981" stroke-width="1"/>
<rect x="1140" y="141" width="3" height="9" fill="#089981"/>
<path d="M1144.5 133V143" stroke="#089981" stroke-width="1"/>
<rect x="1143" y="133" width="3" height="10" fill="#089981"/>
<path d="M1148.5 128V135" stroke="#089981" stroke-width="1"/>
<rect x="1147" y="131" width="3" height="4" fill="#089981"/>
<path d="M1151.5 129V141" stroke="#f23645" stroke-width="1"/>
<rect x="1150" y="132" width="3" height="1" fill="#f23645"/>
<path d="M1155.5 127V143" stroke="#089981" stroke-width="1"/>
<rect x="1154" y="131" width="3" height="11" fill="#089981"/>
<path d="M1158.5 136V149" stroke="#f23645" stroke-width="1"/>
<rect x="1157" y="136" width="3" height="12" fill="#f23645"/>
<path d="M1162.5 131V148" stroke="#089981" stroke-width="1"/>
<rect x="1161" y="146" width="3" height="2" fill="#089981"/>
<path d="M1165.5 136V153" stroke="#089981" stroke-width="1"/>
<rect x="1164" y="144" width="3" height="2" fill="#089981"/>
<path d="M1169.5 132V157" stroke="#089981" stroke-width="1"/>
<rect x="1168" y="133" width="3" height="21" fill="#089981"/>
<path d="M1172.5 140V150" stroke="#089981" stroke-width="1"/>
<rect x="1171" y="142" width="3" height="1" fill="#089981"/>
<path d="M1176.5 130V142" stroke="#089981" stroke-width="1"/>
<rect x="1175" y="131" width="3" height="10" fill="#089981"/>
<path d="M1179.5 126V148" stroke="#f23645" stroke-width="1"/>
<rect x="1178" y="129" width="3" height="3" fill="#f23645"/>
<path d="M1183.5 125V145" stroke="#f23645" stroke-width="1"/>
<rect x="1182" y="125" width="3" height="14" fill="#f23645"/>
<path d="M1186.5 141V160" stroke="#f23645" stroke-width="1"/>
<rect x="1185" y="144" width="3" height="7" fill="#f23645"/>
<path d="M1190.5 151V163" stroke="#f23645" stroke-width="1"/>
<rect x="1189" y="156" width="3" height="1" fill="#f23645"/>
<path d="M1193.5 145V165" stroke="#089981" stroke-width="1"/>
<rect x="1192" y="145" width="3" height="11" fill="#089981"/>
<path d="M1197.5 119V145" stroke="#089981" stroke-width="1"/>
<rect x="1196" y="123" width="3" height="16" fill="#089981"/>
<path d="M1200.5 109V120" stroke="#089981" stroke-width="1"/>
<rect x="1199" y="115" width="3" height="5" fill="#089981"/>
<path d="M1204.5 115V125" stroke="#f23645" stroke-width="1"/>
<rect x="1203" y="117" width="3" height="4" fill="#f23645"/>
<path d="M1207.5 117V127" stroke="#f23645" stroke-width="1"/>
<rect x="1206" y="117" width="3" height="10" fill="#f23645"/>
<path d="M1211.5 110V127" stroke="#089981" stroke-width="1"/>
<rect x="1210" y="112" width="3" height="12" fill="#089981"/>
<path d="M1214.5 103V115" stroke="#089981" stroke-width="1"/>
<rect x="1213" y="109" width="3" height="6" fill="#089981"/>
<path d="M1218.5 96V112" stroke="#089981" stroke-width="1"/>
<rect x="1217" y="98" width="3" height="12" fill="#089981"/>
<path d="M1221.5 88V100" stroke="#089981" stroke-width="1"/>
<rect x="1220" y="91" width="3" height="9" fill="#089981"/>
<path d="M1225.5 83V108" stroke="#f23645" stroke-width="1"/>
<rect x="1224" y="92" width="3" height="16" fill="#f23645"/>
<path d="M1228.5 85V109" stroke="#089981" stroke-width="1"/>
<rect x="1227" y="86" width="3" height="21" fill="#089981"/>
<path d="M1232.5 72V97" stroke="#089981" stroke-width="1"/>
<rect x="1231" y="79" width="3" height="12" fill="#089981"/>
</g>
<polyline points="7.0,446.0 22.0,577.0 31.0,552.0 42.0,667.0 51.0,629.0 56.0,708.0 66.0,583.0 89.0,711.0 99.0,556.0 109.0,598.0 137.0,410.0 144.0,482.0 167.0,352.0 175.0,396.0 192.0,328.0 203.0,376.0 211.0,322.0 217.0,386.0 235.0,307.0 259.4,439.8 266.0,391.0 274.4,420.0 284.7,387.0 287.5,422.0 308.0,329.0 322.0,416.0 325.7,364.0 332.0,395.0 340.0,340.0 350.0,376.0 357.4,339.5 364.0,372.0 371.0,339.0 375.0,367.0 381.8,338.0 399.7,411.0 403.0,398.0 406.0,435.0 410.0,401.0 416.8,444.7 427.0,377.0 443.8,495.0 448.0,457.0 455.0,506.7 469.7,429.0 476.4,490.0 497.8,373.8 501.0,395.0 524.9,345.6 539.6,370.0 546.5,357.0 553.5,395.0 564.0,335.0 574.6,414.0 588.7,365.0 592.0,404.5 599.4,388.0 602.0,413.5 613.0,372.0 627.3,433.7 630.3,403.0 641.3,432.0 668.0,331.0 672.5,363.0 679.0,316.0 693.0,371.5 714.5,322.0 727.5,367.5 742.0,314.5 747.0,322.0" fill="none" stroke="#2962ff" stroke-width="1" stroke-linejoin="round"/>
<polyline points="-3.5,487.2 0.0,521.5 7.0,448.0 10.5,537.2 14.0,524.2 21.0,573.7 28.0,543.0 31.5,629.4 35.0,607.9 42.0,676.0 45.5,632.0 52.5,687.0 59.5,643.6 63.0,648.8 66.5,593.9 70.0,654.5 73.5,643.1 77.0,698.9 80.5,669.7 87.5,711.0 94.5,561.6 101.5,598.2 105.0,556.0 112.0,523.7 115.5,482.5 119.0,497.1 126.0,425.0 133.0,461.7 140.0,435.4 147.0,466.8 150.5,403.4 157.5,442.1 161.0,365.8 168.0,386.7 171.5,364.6 175.0,395.5 178.5,362.0 182.0,372.4 185.5,340.0 192.5,340.0 196.0,332.0 199.5,372.0 203.0,313.0 206.5,342.0 213.5,328.0 217.0,386.0 224.0,357.0 227.5,385.0 234.5,307.0 238.0,370.0 241.5,317.7 245.0,375.1 252.0,404.3 255.5,435.8 259.0,415.6 266.0,416.2 269.5,401.8 273.0,418.4 280.0,396.8 283.5,416.3 290.5,368.3 294.0,378.6 297.5,368.4 301.0,367.7 308.0,333.7 311.5,354.6 315.0,346.7 318.5,405.6 325.5,365.3 329.0,392.7 332.5,367.8 336.0,378.6 339.5,340.1 343.0,365.0 346.5,332.2 350.0,365.0 357.0,349.0 360.5,365.6 364.0,339.3 367.5,355.1 371.0,337.1 374.5,373.7 378.0,334.7 385.0,357.8 388.5,347.0 392.0,386.8 395.5,372.6 402.5,421.6 409.5,405.9 413.0,433.4 420.0,407.1 423.5,412.0 427.0,383.9 430.5,418.4 434.0,400.4 437.5,455.9 441.0,446.4 444.5,500.3 448.0,464.5 451.5,509.9 455.0,461.3 462.0,482.2 465.5,439.0 469.0,477.0 472.5,446.9 476.0,490.2 479.5,443.3 483.0,452.8 490.0,404.8 497.0,400.0 500.5,377.7 504.0,390.8 511.0,368.3 514.5,376.3 521.5,350.0 525.0,359.7" fill="none" stroke="#ff9800" stroke-width="1" stroke-linejoin="round"/>
<polyline points="-10.0,455.0 89.0,711.0" fill="none" stroke="#4caf50" stroke-opacity="0.8" stroke-width="3.7"/>
<polyline points="235.0,307.0 452.0,516.0 784.0,250.0 1001.0,457.0" fill="none" stroke="#4caf50" stroke-opacity="0.8" stroke-width="3.7" stroke-linejoin="round"/>
<polyline points="7.0,446.0 89.0,711.0 235.0,307.0 288.0,425.0 371.0,334.0 452.0,515.0 564.0,334.0 627.0,440.0 679.0,314.0 728.0,368.0 784.0,250.5 847.0,348.0 861.0,285.0 948.0,423.0 973.0,341.0 1001.0,457.0 1232.0,72.0" fill="none" stroke="#dc3448" stroke-width="2" stroke-linejoin="round"/>
<line x1="-10" y1="632" x2="89" y2="711" stroke="#2962ff" stroke-width="3.5"/>
<rect x="235.5" y="307.5" width="766" height="150" fill="rgba(41,98,255,0.2)" stroke="#2962ff" stroke-width="1"/>
<line x1="231" y1="307.5" x2="1353" y2="307.5" stroke="#f23645" stroke-width="1" stroke-dasharray="5 6"/>
<line x1="987" y1="457.5" x2="1353" y2="457.5" stroke="#f23645" stroke-width="1" stroke-dasharray="5 6"/>
<path d="M1062.2 374.8L1067.5 371.2V385.2" fill="none" stroke="#f23645" stroke-width="1.9" stroke-linejoin="miter"/>
<text x="755" y="514" fill="#2962ff" font-family="Liberation Sans, sans-serif" font-size="38.5" text-anchor="middle">A</text>
</svg>
<div class="hdr" style="left:3.5px;transform:scaleX(0.898);transform-origin:0 0">DJI, 1D, TVC</div>
<div class="hdr" style="left:80px">O</div><div class="hdr g" style="left:89.5px">38448.10</div>
<div class="hdr" style="left:151px">H</div><div class="hdr g" style="left:159.6px">38783.62</div>
<div class="hdr" style="left:220.9px">L</div><div class="hdr g" style="left:227.6px">38336.57</div>
<div class="hdr" style="left:289.5px">C</div><div class="hdr g" style="left:297.5px">38654.43</div>
<div class="hdr g" style="left:360.4px">+134.58</div><div class="hdr g" style="left:410.6px">(+0.35%)</div>
<div class="pl" style="top:52.5px">39000.00</div>
<div class="pl" style="top:107.4px">38000.00</div>
<div class="pl" style="top:152.4px">37200.00</div>
<div class="pl" style="top:198.4px">36400.00</div>
<div class="pl" style="top:245.3px">35600.00</div>
<div class="pl" style="top:293.4px">34800.00</div>
<div class="pl" style="top:342.5px">34000.00</div>
<div class="pl" style="top:373.9px">33500.00</div>
<div class="pl" style="top:405.7px">33000.00</div>
<div class="pl" style="top:444.4px">32400.00</div>
<div class="pl" style="top:484.0px">31800.00</div>
<div class="pl" style="top:524.2px">31200.00</div>
<div class="pl" style="top:565.3px">30600.00</div>
<div class="pl" style="top:607.1px">30000.00</div>
<div class="pl" style="top:642.7px">29500.00</div>
<div class="pl" style="top:678.8px">29000.00</div>
<div class="pl" style="top:711.9px">28550.00</div>
<div class="pl" style="top:744.7px">28110.00</div>
<div class="lab" style="top:299px">34712.28</div>
<div class="lab" style="top:449px">32327.20</div>
<div class="usd"><span>USD</span></div>
<div class="tl" style="left:93px">Nov</div>
<div class="tl b" style="left:240px">2023</div>
<div class="tl" style="left:377px">Mar</div>
<div class="tl" style="left:457px">Apr</div>
<div class="tl" style="left:601px">Jun</div>
<div class="tl" style="left:744px">Aug</div>
<div class="tl" style="left:824px">Sep</div>
<div class="tl" style="left:971px">Nov</div>
<div class="tl b" style="left:1115px">2024</div>
<div class="tl" style="left:1257px">Mar</div>
</body></html>
